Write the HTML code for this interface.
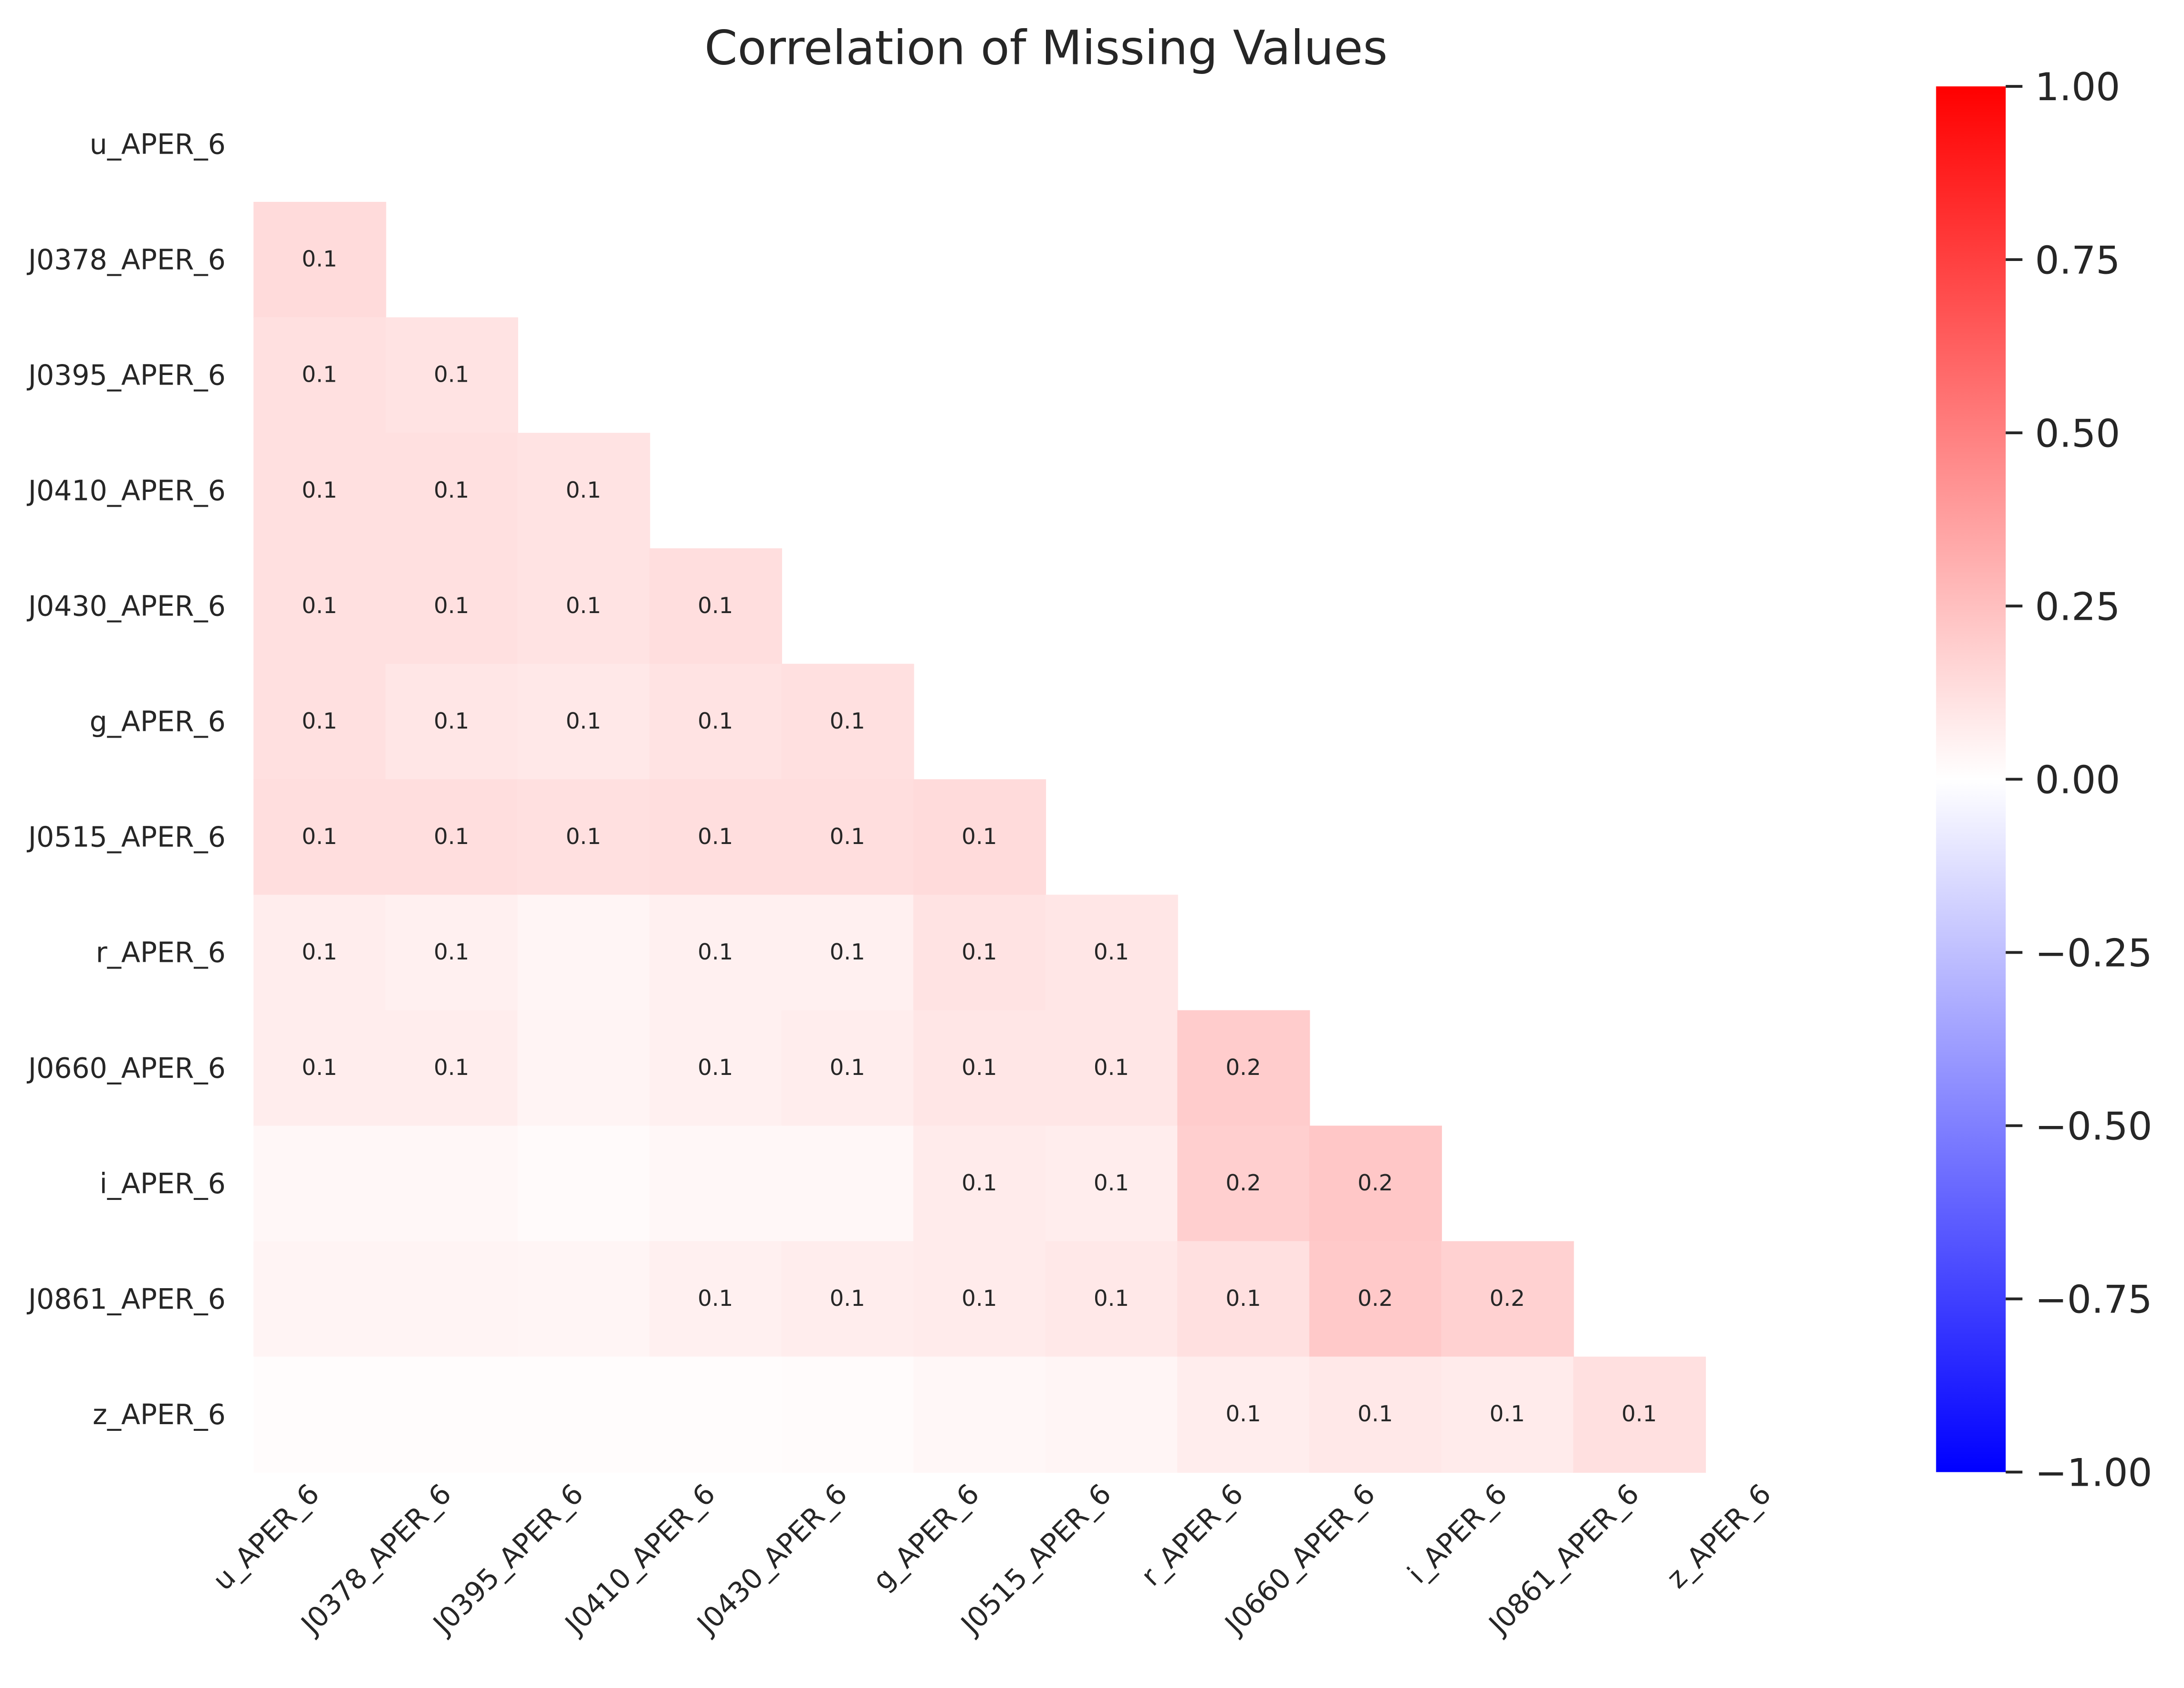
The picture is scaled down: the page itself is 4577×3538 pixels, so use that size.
<!DOCTYPE html>
<html><head><meta charset="utf-8"><style>html,body{margin:0;padding:0;background:#fff}svg{display:block}</style></head>
<body>
<svg id="chart" width="4577" height="3538" viewBox="0 0 1568 1212" xmlns="http://www.w3.org/2000/svg" font-family="'DejaVu Sans','Liberation Sans',sans-serif" fill="#262626">
<defs><linearGradient id="bwr" x1="0" y1="1" x2="0" y2="0"><stop offset="0" stop-color="#0000ff"/><stop offset="0.5" stop-color="#ffffff"/><stop offset="1" stop-color="#ff0000"/></linearGradient></defs>
<rect width="1568" height="1212" fill="#fff"/>
<text x="751" y="46" font-size="34" text-anchor="middle">Correlation of Missing Values</text>
<g id="cells"></g><g id="ylabels"></g><g id="xlabels"></g>
<rect x="1390" y="62" width="50" height="995" fill="url(#bwr)"/>
<g id="cbticks"></g>
</svg>
<script>
const labels = ["u_APER_6","J0378_APER_6","J0395_APER_6","J0410_APER_6","J0430_APER_6","g_APER_6","J0515_APER_6","r_APER_6","J0660_APER_6","i_APER_6","J0861_APER_6","z_APER_6"];
const row1 = [0.14];
const row2 = [0.12,0.11];
const row3 = [0.12,0.12,0.11];
const row4 = [0.12,0.12,0.11,0.13];
const row5 = [0.12,0.10,0.09,0.11,0.12];
const row6 = [0.13,0.13,0.12,0.13,0.13,0.14];
const row7 = [0.07,0.06,0.04,0.06,0.06,0.11,0.10];
const row8 = [0.07,0.07,0.045,0.06,0.07,0.10,0.10,0.20];
const row9 = [0.03,0.03,0.02,0.03,0.03,0.08,0.07,0.19,0.22];
const row10 = [0.045,0.045,0.04,0.06,0.07,0.08,0.09,0.12,0.21,0.18];
const row11 = [0.01,0.01,0.01,0.01,0.015,0.03,0.04,0.07,0.09,0.08,0.12];
const rows = [[],row1,row2,row3,row4,row5,row6,row7,row8,row9,row10,row11];
const cbTicks = [1.0,0.75,0.5,0.25,0.0,-0.25,-0.5,-0.75,-1.0];
const cbTickLabels = ["1.00","0.75","0.50","0.25","0.00","\u22120.25","\u22120.50","\u22120.75","\u22121.00"];

const NS="http://www.w3.org/2000/svg";
const X0=182, Y0=62, CW=(1319-182)/12, CH=(1057-62)/12;
const xPos=i=>X0+i*CW, yPos=i=>Y0+i*CH;
const cbY=v=>62+(1-v)/2*995;
function color(v){
  if(v>=0){const g=Math.round(255*(1-v));return `rgb(255,${g},${g})`;}
  const r=Math.round(255*(1+v));return `rgb(${r},${r},255)`;
}
function mk(tag,attrs,parent){const e=document.createElementNS(NS,tag);for(const k in attrs)e.setAttribute(k,attrs[k]);parent.appendChild(e);return e;}
const cells=document.getElementById('cells');
rows.forEach((r,i)=>{r.forEach((v,j)=>{
  const rc=mk('rect',{x:xPos(j),y:yPos(i),width:CW+0.5,height:CH+0.5,fill:color(v)},cells);
  
  
  if(v>=0.05){
    const t=mk('text',{x:xPos(j)+CW/2,y:yPos(i)+CH/2+5,'font-size':16,'text-anchor':'middle',fill:'#262626'},cells);
    t.textContent=v.toFixed(1);
    
    
  }
});});
const yl=document.getElementById('ylabels'), xl=document.getElementById('xlabels');
labels.forEach((l,i)=>{
  const t=mk('text',{x:162,y:yPos(i)+CH/2+7,'font-size':20,'text-anchor':'end'},yl);
  t.textContent=l;
  
  
  const cx=xPos(i)+CW/2+1, cy=1074;
  const u=mk('text',{x:cx,y:cy,'font-size':20,'text-anchor':'end',transform:`rotate(-45 ${cx} ${cy})`},xl);
  u.textContent=l;
  
  
});
const cb=document.getElementById('cbticks');
cbTicks.forEach((v,i)=>{
  const y=cbY(v);
  const ln=mk('line',{x1:1440,x2:1452,y1:y,y2:y,stroke:'#262626','stroke-width':2},cb);
  
  
  const t=mk('text',{x:1461,y:y+10,'font-size':27.5},cb);
  t.textContent=cbTickLabels[i];
  
  
});
</script>
</body></html>
